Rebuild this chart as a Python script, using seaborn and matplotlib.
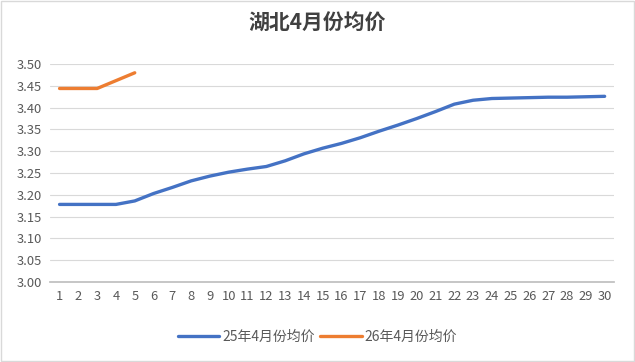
import numpy as np
import pandas as pd
import matplotlib
matplotlib.use('Agg')
import matplotlib.pyplot as plt
import seaborn as sns

# data
days = list(range(1, 31))
price_25 = [3.178, 3.178, 3.178, 3.178, 3.186, 3.203, 3.217, 3.232, 3.243, 3.252,
            3.259, 3.265, 3.278, 3.294, 3.307, 3.318, 3.331, 3.346, 3.360, 3.375,
            3.391, 3.408, 3.417, 3.421, 3.422, 3.423, 3.424, 3.424, 3.425, 3.426]
days_26 = [1, 2, 3, 4, 5]
price_26 = [3.444, 3.444, 3.444, 3.462, 3.480]
labels = ['25年4月份均价', '26年4月份均价']
colors = ['#4472C4', '#ED7D31']

df = pd.concat([
    pd.DataFrame({'day': days, 'price': price_25, 'series': labels[0]}),
    pd.DataFrame({'day': days_26, 'price': price_26, 'series': labels[1]}),
])

sns.set_theme(style='white')
plt.rcParams['font.family'] = ['Noto Sans CJK SC', 'DejaVu Sans']

fig = plt.figure(figsize=(6.35, 3.62), dpi=100)
ax = fig.add_axes([0.079, 0.221, 0.888, 0.602])

sns.lineplot(data=df, x='day', y='price', hue='series', palette=colors,
             linewidth=2.4, ax=ax, legend=False, clip_on=False)

ax.set_xlim(0.5, 30.5)
ax.set_ylim(3.0, 3.5)
ax.set_xticks(days)
ax.set_yticks(np.arange(3.0, 3.501, 0.05))
ax.yaxis.set_major_formatter(matplotlib.ticker.FormatStrFormatter('%.2f'))
ax.grid(axis='y', color='#d9d9d9', linewidth=0.8)
ax.set_axisbelow(True)
for s in ['top', 'right', 'left']:
    ax.spines[s].set_visible(False)
ax.spines['bottom'].set_color('#bfbfbf')
ax.tick_params(axis='both', length=0, labelsize=9.3, colors='#595959', pad=6)
ax.set_xlabel('')
ax.set_ylabel('')

fig.suptitle('湖北4月份均价', x=0.5, y=0.965, fontsize=15, fontweight='bold', color='#404040')

handles = [plt.Line2D([], [], color=c, linewidth=2.4) for c in colors]
fig.legend(handles, labels, loc='center', bbox_to_anchor=(0.5, 0.07), ncol=2,
           frameon=False, fontsize=10, handlelength=3.0, handletextpad=0.2,
           columnspacing=0.4, labelcolor='#595959')

fig.patches.append(plt.Rectangle((0.002, 0.003), 0.996, 0.994, transform=fig.transFigure,
                                 fill=False, edgecolor='#d9d9d9', linewidth=1))

fig.savefig('out.png', dpi=100)
